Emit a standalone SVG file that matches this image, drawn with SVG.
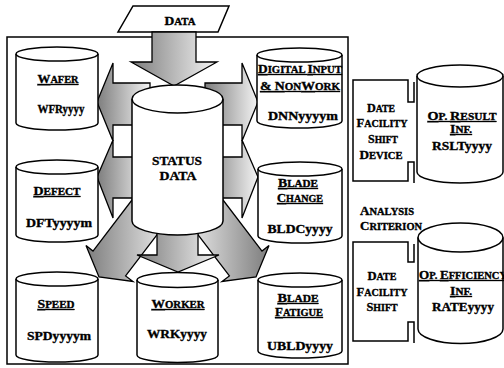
<svg xmlns="http://www.w3.org/2000/svg" width="504" height="368" viewBox="0 0 504 368">
<defs>
<linearGradient id="g" x1="0" y1="0" x2="1" y2="0"><stop offset="0" stop-color="#7d7d7d"/><stop offset="1" stop-color="#f4f4f4"/></linearGradient>
<linearGradient id="gr" x1="1" y1="0" x2="0" y2="0"><stop offset="0" stop-color="#7d7d7d"/><stop offset="1" stop-color="#f4f4f4"/></linearGradient>
<style>
.t{font-family:"Liberation Serif","Times New Roman",serif;font-weight:bold;font-size:12.5px;text-anchor:middle;fill:#000;stroke:#000;stroke-width:0.35}
.l{text-anchor:start}
.s{font-size:10px}
.u{text-decoration:underline}
.ar{fill:url(#g);stroke:#000;stroke-width:1.3}
.ar2{fill:url(#gr);stroke:#000;stroke-width:1.3}
.cy{fill:#fff;stroke:#000;stroke-width:1.5}
.cl{fill:none;stroke:#000;stroke-width:1.5}
</style>
</defs>
<rect fill="#fff" width="504" height="368"/>
<g id="main-box"><rect x="7" y="37" width="341" height="327" class="cl" stroke-width="2"/></g>
<g id="data-input">
<polygon points="133,6 229,6 218,32 118,32" class="cy"/>
<text class="t" x="180" y="25" textLength="31" lengthAdjust="spacingAndGlyphs">D<tspan class="s">ATA</tspan></text>
</g>
<g id="connectors">
<polygon class="ar" points="152,32 196,32 196,62 217,62 174,86 131,62 152,62"/>
<polygon class="ar" points="150,83 113,83 113,63 97,102 113,141 113,125 150,125"/>
<polygon class="ar" points="150,157 113,157 113,140 97,177 113,218 113,198 150,198"/>
<polygon class="ar" points="205,83 242,83 242,63 258,102 242,141 242,125 205,125"/>
<polygon class="ar" points="205,157 242,157 242,140 258,177 242,218 242,198 205,198"/>
<polygon class="ar" points="141.5,187.5 93,251.1 86,245.5 99,277 133,281.5 125.6,275.9 174.1,212.3"/>
<polygon class="ar2" points="213.5,187.5 262,251.1 269,245.5 256,277 222,281.5 229.4,275.9 180.9,212.3"/>
<polygon class="ar" points="157,215 198,215 198,255 219,255 178,272 137,255 157,255"/>
</g>
<g id="status-data">
<path class="cy" d="M132,99 A45.5,14 0 0 1 223,99 V221 A45.5,14 0 0 1 132,221 Z"/>
<path class="cl" d="M132,99 A45.5,14 0 0 0 223,99"/>
<text class="t" x="177" y="165" textLength="50" lengthAdjust="spacingAndGlyphs">STATUS</text>
<text class="t" x="178" y="180" textLength="37" lengthAdjust="spacingAndGlyphs">DATA</text>
</g>
<g id="wafer">
<path class="cy" d="M16,54 A41,7 0 0 1 98,54 V123 A41,7 0 0 1 16,123 Z"/>
<path class="cl" d="M16,54 A41,7 0 0 0 98,54"/>
<text class="t u" x="58" y="83" textLength="41" lengthAdjust="spacingAndGlyphs">W<tspan class="s">AFER</tspan></text>
<text class="t" x="61" y="113" textLength="47" lengthAdjust="spacingAndGlyphs">WFRyyyy</text>
</g>
<g id="defect">
<path class="cy" d="M16,167 A41,7 0 0 1 98,167 V235 A41,7 0 0 1 16,235 Z"/>
<path class="cl" d="M16,167 A41,7 0 0 0 98,167"/>
<text class="t u" x="57" y="195" textLength="47" lengthAdjust="spacingAndGlyphs">D<tspan class="s">EFECT</tspan></text>
<text class="t" x="59" y="227" textLength="66" lengthAdjust="spacingAndGlyphs">DFTyyyym</text>
</g>
<g id="speed">
<path class="cy" d="M16,279 A41,7 0 0 1 98,279 V355 A41,7 0 0 1 16,355 Z"/>
<path class="cl" d="M16,279 A41,7 0 0 0 98,279"/>
<text class="t u" x="56" y="308" textLength="37" lengthAdjust="spacingAndGlyphs">S<tspan class="s">PEED</tspan></text>
<text class="t" x="59" y="340" textLength="64" lengthAdjust="spacingAndGlyphs">SPDyyyym</text>
</g>
<g id="worker">
<path class="cy" d="M137,280 A40.5,7.5 0 0 1 218,280 V355 A40.5,7.5 0 0 1 137,355 Z"/>
<path class="cl" d="M137,280 A40.5,7.5 0 0 0 218,280"/>
<text class="t u" x="178" y="308" textLength="53" lengthAdjust="spacingAndGlyphs">W<tspan class="s">ORKER</tspan></text>
<text class="t" x="177" y="338" textLength="60" lengthAdjust="spacingAndGlyphs">WRKyyyy</text>
</g>
<g id="digital-input">
<path class="cy" d="M257,55 A42.5,7 0 0 1 342,55 V121 A42.5,7 0 0 1 257,121 Z"/>
<path class="cl" d="M257,55 A42.5,7 0 0 0 342,55"/>
<text class="t u" x="300" y="73" textLength="84" lengthAdjust="spacingAndGlyphs">D<tspan class="s">IGITAL </tspan>I<tspan class="s">NPUT</tspan></text>
<text class="t u" x="300" y="90" textLength="80" lengthAdjust="spacingAndGlyphs">&amp; N<tspan class="s">ON</tspan>W<tspan class="s">ORK</tspan></text>
<text class="t" x="303" y="120" textLength="70" lengthAdjust="spacingAndGlyphs">DNNyyyym</text>
</g>
<g id="blade-change">
<path class="cy" d="M258,169 A42,7 0 0 1 342,169 V236 A42,7 0 0 1 258,236 Z"/>
<path class="cl" d="M258,169 A42,7 0 0 0 342,169"/>
<text class="t u" x="298" y="187" textLength="40" lengthAdjust="spacingAndGlyphs">B<tspan class="s">LADE</tspan></text>
<text class="t u" x="300" y="202" textLength="46" lengthAdjust="spacingAndGlyphs">C<tspan class="s">HANGE</tspan></text>
<text class="t" x="300" y="233" textLength="65" lengthAdjust="spacingAndGlyphs">BLDCyyyy</text>
</g>
<g id="blade-fatigue">
<path class="cy" d="M258,280 A42,7 0 0 1 342,280 V351 A42,7 0 0 1 258,351 Z"/>
<path class="cl" d="M258,280 A42,7 0 0 0 342,280"/>
<text class="t u" x="298" y="302" textLength="41" lengthAdjust="spacingAndGlyphs">B<tspan class="s">LADE</tspan></text>
<text class="t u" x="299" y="316" textLength="48" lengthAdjust="spacingAndGlyphs">F<tspan class="s">ATIGUE</tspan></text>
<text class="t" x="300" y="350" textLength="66" lengthAdjust="spacingAndGlyphs">UBLDyyyy</text>
</g>
<g id="result-keys">
<path class="cl" d="M414,82 V102 H408 V80 H353 V181 H408 V162 H414 V183"/>
<text class="t" x="381" y="112" textLength="28" lengthAdjust="spacingAndGlyphs">D<tspan class="s">ATE</tspan></text>
<text class="t" x="382" y="127" textLength="51" lengthAdjust="spacingAndGlyphs">F<tspan class="s">ACILITY</tspan></text>
<text class="t" x="383" y="143" textLength="30" lengthAdjust="spacingAndGlyphs">S<tspan class="s">HIFT</tspan></text>
<text class="t" x="381" y="159" textLength="43" lengthAdjust="spacingAndGlyphs">D<tspan class="s">EVICE</tspan></text>
</g>
<g id="op-result">
<path class="cy" d="M417,76 A43,11 0 0 1 503,76 V172 A43,11 0 0 1 417,172 Z"/>
<path class="cl" d="M417,76 A43,11 0 0 0 503,76"/>
<text class="t u" x="462" y="120" textLength="69" lengthAdjust="spacingAndGlyphs">O<tspan class="s">P. </tspan>R<tspan class="s">ESULT</tspan></text>
<text class="t u" x="461" y="133" textLength="22" lengthAdjust="spacingAndGlyphs">I<tspan class="s">NF.</tspan></text>
<text class="t" x="462" y="150" textLength="60" lengthAdjust="spacingAndGlyphs">RSLTyyyy</text>
</g>
<g id="analysis-criterion">
<text class="t l" x="360" y="215" textLength="54" lengthAdjust="spacingAndGlyphs">A<tspan class="s">NALYSIS</tspan></text>
<text class="t l" x="360" y="230" textLength="62" lengthAdjust="spacingAndGlyphs">C<tspan class="s">RITERION</tspan></text>
</g>
<g id="efficiency-keys">
<path class="cl" d="M414,244 V262 H408 V242 H353 V341 H408 V322 H414 V343"/>
<text class="t" x="382" y="280" textLength="29" lengthAdjust="spacingAndGlyphs">D<tspan class="s">ATE</tspan></text>
<text class="t" x="382" y="296" textLength="51" lengthAdjust="spacingAndGlyphs">F<tspan class="s">ACILITY</tspan></text>
<text class="t" x="382" y="311" textLength="31" lengthAdjust="spacingAndGlyphs">S<tspan class="s">HIFT</tspan></text>
</g>
<g id="op-efficiency">
<path class="cy" d="M418,237.5 A42.5,14.5 0 0 1 503,237.5 V329 A42.5,14.5 0 0 1 418,329 Z"/>
<path class="cl" d="M418,237.5 A42.5,14.5 0 0 0 503,237.5"/>
<text class="t l u" x="419" y="279" textLength="88" lengthAdjust="spacingAndGlyphs">O<tspan class="s">P. </tspan>E<tspan class="s">FFICIENCY</tspan></text>
<text class="t u" x="461" y="295" textLength="22" lengthAdjust="spacingAndGlyphs">I<tspan class="s">NF.</tspan></text>
<text class="t" x="463" y="311" textLength="62" lengthAdjust="spacingAndGlyphs">RATEyyyy</text>
</g>
</svg>
